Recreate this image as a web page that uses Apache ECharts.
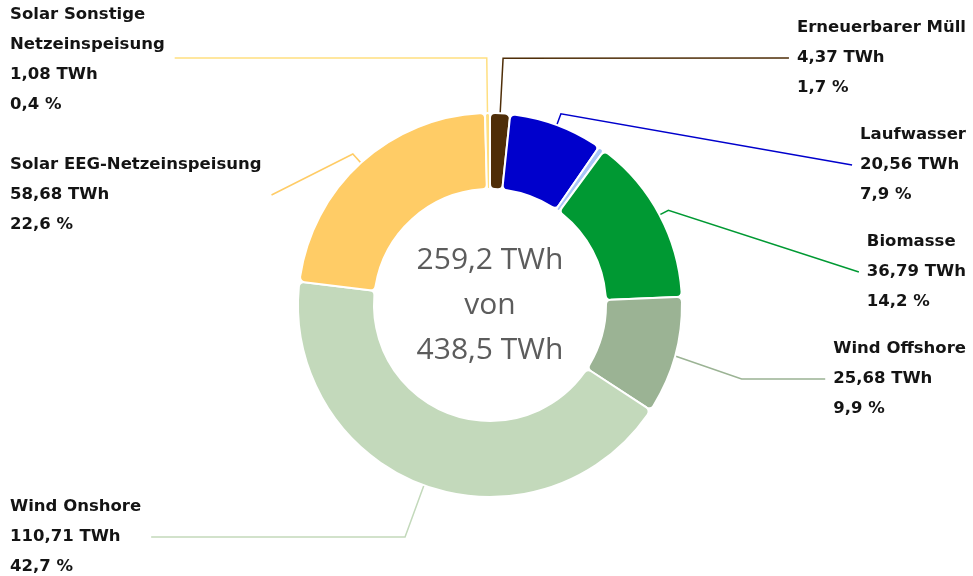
<!DOCTYPE html>
<html>
<head>
<meta charset="utf-8">
<script src="https://cdn.jsdelivr.net/npm/echarts@6/dist/echarts.min.js"></script>
<style>html,body{margin:0;padding:0;background:#fff}#c{width:973px;height:576px}</style>
</head>
<body>
<div id="c"></div>
<script>
// ---- data ----
const categories = ['Erneuerbarer Müll', 'Laufwasser', 'Sonstige', 'Biomasse', 'Wind Offshore', 'Wind Onshore', 'Solar EEG-Netzeinspeisung', 'Solar Sonstige\nNetzeinspeisung'];
const valuesTWh = [4.37, 20.56, 1.33, 36.79, 25.68, 110.71, 58.68, 1.08];
const showLabel = [true, true, false, true, true, true, true, true];
const colors = ['#4f2e08', '#0000cc', '#a9c5f7', '#009933', '#9bb394', '#c3d9bb', '#ffcc66', '#ffdf80'];
const centerLines = ['259,2 TWh', 'von', '438,5 TWh'];

// ---- label layout (positions only) ----
const CX = 490, CY = 305, R_IN = 116, R_OUT = 192;
const labelLayoutCfg = [
  { side: 'right', y: 58, bend: 247 },
  { side: 'right', y: 165, bend: 204 },
  null,
  { side: 'right', y: 272, bend: 202 },
  { side: 'right', y: 379, bend: 261, flat: true },
  { side: 'left', y: 537, bend: 247 },
  { side: 'left', y: 195, bend: 204 },
  { side: 'left', y: 60, bend: 247, lineY: 58 }
];

const total = valuesTWh.reduce((a, b) => a + b, 0);
const fmt = (v, d) => v.toFixed(d).replace('.', ',');
const txt = { fontFamily: 'DejaVu Sans', fontWeight: 'bold', fontSize: 16.5, lineHeight: 30, color: '#141414', align: 'left' };

const chart = echarts.init(document.getElementById('c'), null, { renderer: 'canvas' });
chart.setOption({
  animation: false,
  graphic: [{
    type: 'text',
    x: CX, y: CY,
    style: {
      text: centerLines.join('\n'),
      fontFamily: 'Open Sans',
      fontSize: 30,
      lineHeight: 45,
      fill: '#5c5c5c',
      align: 'center',
      verticalAlign: 'middle'
    }
  }],
  series: [{
    type: 'pie',
    center: [CX, CY],
    radius: [R_IN, R_OUT],
    startAngle: 90,
    clockwise: true,
    avoidLabelOverlap: false,
    itemStyle: { borderColor: '#fff', borderWidth: 2, borderRadius: 5 },
    label: {
      show: true,
      position: 'outside',
      formatter: p => '{n|' + p.name + '}\n{v|' + fmt(p.value, 2) + ' TWh}\n{v|' + fmt(p.value / total * 100, 1) + ' %}',
      rich: { n: txt, v: txt }
    },
    labelLine: { show: true, lineStyle: { width: 1.5 } },
    labelLayout: function (p) {
      const cfg = labelLayoutCfg[p.dataIndex];
      if (!cfg) return {};
      const pts = p.labelLinePoints;
      const p0 = pts[0];
      const dx = p0[0] - CX, dy = p0[1] - CY;
      const len = Math.sqrt(dx * dx + dy * dy);
      const ux = dx / len, uy = dy / len;
      const w = p.labelRect.width;
      const ly = cfg.lineY !== undefined ? cfg.lineY : cfg.y;
      const p1 = [CX + ux * cfg.bend, cfg.flat ? ly : CY + uy * cfg.bend];
      if (cfg.side === 'right') {
        const x = 966;
        return { x: x, y: cfg.y, align: 'right', verticalAlign: 'middle',
          labelLinePoints: [p0, p1, [x - w - 8, ly]] };
      } else {
        const x = 10;
        return { x: x, y: cfg.y, align: 'left', verticalAlign: 'middle',
          labelLinePoints: [p0, p1, [x + w + 10, ly]] };
      }
    },
    data: categories.map((name, i) => ({
      name: name,
      value: valuesTWh[i],
      itemStyle: { color: colors[i] },
      label: { show: showLabel[i] },
      labelLine: { show: showLabel[i] }
    }))
  }]
});
</script>
</body>
</html>
